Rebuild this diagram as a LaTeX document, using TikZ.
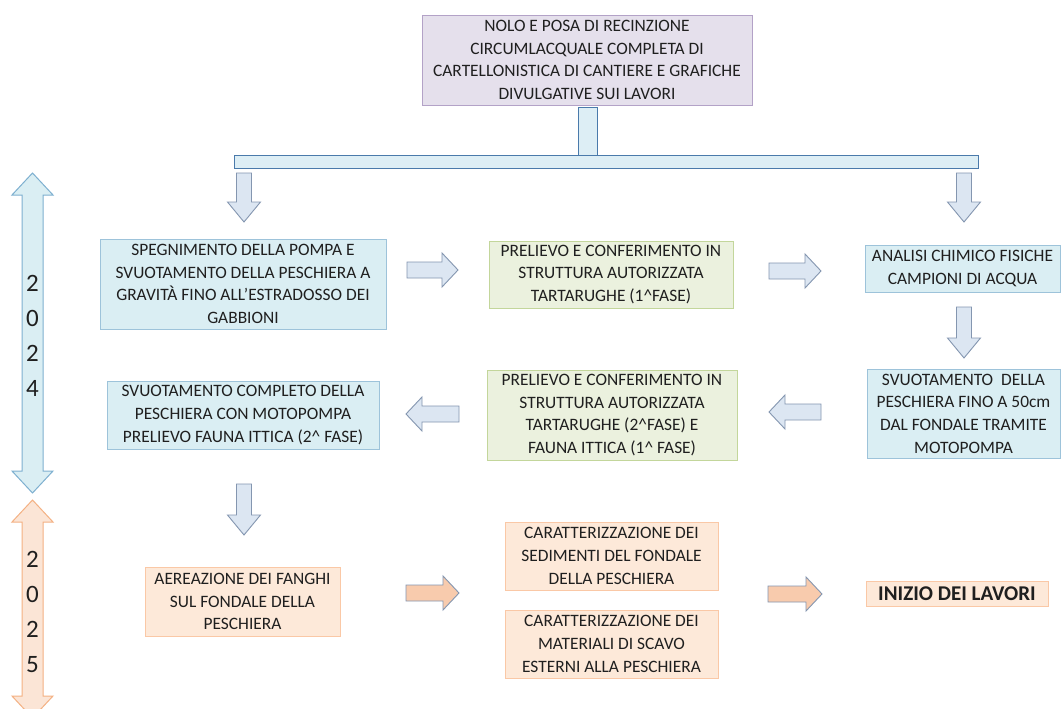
\documentclass[tikz,border=0pt]{standalone}
\usepackage{fontspec}
\setmainfont{Carlito}
\definecolor{txt}{HTML}{1F1F1F}
\definecolor{bluef}{HTML}{DAEEF3}
\definecolor{blued}{HTML}{9DC3DA}
\definecolor{purf}{HTML}{E5E0EC}
\definecolor{purd}{HTML}{B3A2C7}
\definecolor{grnf}{HTML}{EBF1DE}
\definecolor{grnd}{HTML}{C3D69B}
\definecolor{orf}{HTML}{FDE9D9}
\definecolor{ord}{HTML}{FAC8A6}
\definecolor{barf}{HTML}{DDEEF5}
\definecolor{bard}{HTML}{4A7AAB}
\definecolor{arrf}{HTML}{DCE6F2}
\definecolor{arrd}{HTML}{8496B0}
\definecolor{oarrf}{HTML}{F8CBAD}
\definecolor{yrbf}{HTML}{DAEEF3}
\definecolor{yrbd}{HTML}{7EB0D0}
\definecolor{yrof}{HTML}{FBE5D6}
\definecolor{yrod}{HTML}{F4B183}
\tikzset{
  base/.style={draw, line width=0.9pt, inner sep=0pt, align=center, text=txt,
    font=\fontsize{17.4}{22.7}\selectfont},
  bluebox/.style={base, fill=bluef, draw=blued},
  purbox/.style={base, fill=purf, draw=purd},
  grnbox/.style={base, fill=grnf, draw=grnd},
  orbox/.style={base, fill=orf, draw=ord},
  barbox/.style={draw=bard, fill=barf, line width=1pt, inner sep=0pt},
  blarrow/.style={draw=arrd, fill=arrf, line width=0.9pt, line join=miter},
  orarrow/.style={draw=arrd, fill=oarrf, line width=0.9pt, line join=miter},
  yr24/.style={draw=yrbd, fill=yrbf, line width=1pt},
  yr25/.style={draw=yrod, fill=yrof, line width=1pt},
  yrtext/.style={align=center, inner sep=0pt, text=txt, font=\fontsize{25}{35}\selectfont}
}
% right arrow: x1 (tail), x2 (tip), yc, style
\newcommand\arrowR[4]{\draw[#4] (#1,{#3-8}) -- ({#2-16},{#3-8}) -- ({#2-16},{#3-17}) -- (#2,#3) -- ({#2-16},{#3+17}) -- ({#2-16},{#3+8}) -- (#1,{#3+8}) -- cycle;}
% left arrow: x1 (tip), x2 (tail), yc, style
\newcommand\arrowL[4]{\draw[#4] (#2,{#3-8}) -- ({#1+16},{#3-8}) -- ({#1+16},{#3-17}) -- (#1,#3) -- ({#1+16},{#3+17}) -- ({#1+16},{#3+8}) -- (#2,{#3+8}) -- cycle;}
% down arrow: xc, ytop, ytip, style
\newcommand\arrowD[4]{\draw[#4] ({#1-7.5},#2) -- ({#1-7.5},{#3-20}) -- ({#1-16.5},{#3-20}) -- (#1,#3) -- ({#1+16.5},{#3-20}) -- ({#1+7.5},{#3-20}) -- ({#1+7.5},#2) -- cycle;}
% double vertical arrow: xc, ytop tip, ybottom tip, style
\newcommand\arrowUD[4]{\draw[#4] (#1,#2) -- ({#1+20.5},{#2+22}) -- ({#1+10.5},{#2+22}) -- ({#1+10.5},{#3-22}) -- ({#1+20.5},{#3-22}) -- (#1,#3) -- ({#1-20.5},{#3-22}) -- ({#1-10.5},{#3-22}) -- ({#1-10.5},{#2+22}) -- ({#1-20.5},{#2+22}) -- cycle;}
\begin{document}
\begin{tikzpicture}[x=1pt,y=-1pt]
\useasboundingbox (0,0) rectangle (1061,709);
\fill[white] (0,0) rectangle (1061,709);

% year arrows
\arrowUD{32.5}{173}{493}{yr24}
\arrowUD{32.5}{500}{718}{yr25}
\node[yrtext] (y24) at (32.5,336) {2\\0\\2\\4};
\node[yrtext] (y25) at (32.5,612) {2\\0\\2\\5};

% top box, stem and bar
\node[purbox, minimum width=330pt, minimum height=90pt] (top) at (587,60)
  {NOLO E POSA DI RECINZIONE\\CIRCUMLACQUALE COMPLETA DI\\CARTELLONISTICA DI CANTIERE E GRAFICHE\\DIVULGATIVE SUI LAVORI};
\node[barbox, minimum width=19pt, minimum height=47pt] (stem) at (587.5,131.5) {};
\node[barbox, minimum width=744pt, minimum height=13pt] (bar) at (606,161.5) {};

% boxes
\node[bluebox, minimum width=286pt, minimum height=90pt] (b1) at (243,284)
  {SPEGNIMENTO DELLA POMPA E\\SVUOTAMENTO DELLA PESCHIERA A\\GRAVITÀ FINO ALL’ESTRADOSSO DEI\\GABBIONI};
\node[grnbox, minimum width=244pt, minimum height=67pt] (g1) at (611,274.5)
  {PRELIEVO E CONFERIMENTO IN\\STRUTTURA AUTORIZZATA\\TARTARUGHE (1\textasciicircum FASE)};
\node[bluebox, minimum width=195pt, minimum height=47pt] (b3) at (962.5,268.5)
  {ANALISI CHIMICO FISICHE\\CAMPIONI DI ACQUA};
\node[bluebox, minimum width=193pt, minimum height=89pt] (b4) at (963.5,413.5)
  {SVUOTAMENTO\ \ DELLA\\PESCHIERA FINO A 50cm\\DAL FONDALE TRAMITE\\MOTOPOMPA};
\node[grnbox, minimum width=250pt, minimum height=90pt] (g2) at (612,415)
  {PRELIEVO E CONFERIMENTO IN\\STRUTTURA AUTORIZZATA\\TARTARUGHE (2\textasciicircum FASE) E\\FAUNA ITTICA (1\textasciicircum\ FASE)};
\node[bluebox, minimum width=272pt, minimum height=68pt] (b6) at (243,415)
  {SVUOTAMENTO COMPLETO DELLA\\PESCHIERA CON MOTOPOMPA\\PRELIEVO FAUNA ITTICA (2\textasciicircum\ FASE)};
\node[orbox, minimum width=195pt, minimum height=69pt] (o1) at (242.5,601.5)
  {AEREAZIONE DEI FANGHI\\SUL FONDALE DELLA\\PESCHIERA};
\node[orbox, minimum width=213pt, minimum height=68pt] (o2) at (611.5,556)
  {CARATTERIZZAZIONE DEI\\SEDIMENTI DEL FONDALE\\DELLA PESCHIERA};
\node[orbox, minimum width=213pt, minimum height=68pt] (o3) at (611.5,644)
  {CARATTERIZZAZIONE DEI\\MATERIALI DI SCAVO\\ESTERNI ALLA PESCHIERA};
\node[orbox, minimum width=182pt, minimum height=25pt, font=\fontsize{21}{24}\selectfont\bfseries] (o4) at (957,593.5)
  {INIZIO DEI LAVORI};

% block arrows
\arrowD{244}{173}{222}{blarrow}
\arrowD{964}{173}{222}{blarrow}
\arrowR{407}{458}{270}{blarrow}
\arrowR{769}{821}{271}{blarrow}
\arrowD{964}{307}{358}{blarrow}
\arrowL{769}{821}{412}{blarrow}
\arrowL{406}{459}{414}{blarrow}
\arrowD{244}{484}{535}{blarrow}
\arrowR{406}{459}{593}{orarrow}
\arrowR{768}{822}{594}{orarrow}
\end{tikzpicture}
\end{document}
